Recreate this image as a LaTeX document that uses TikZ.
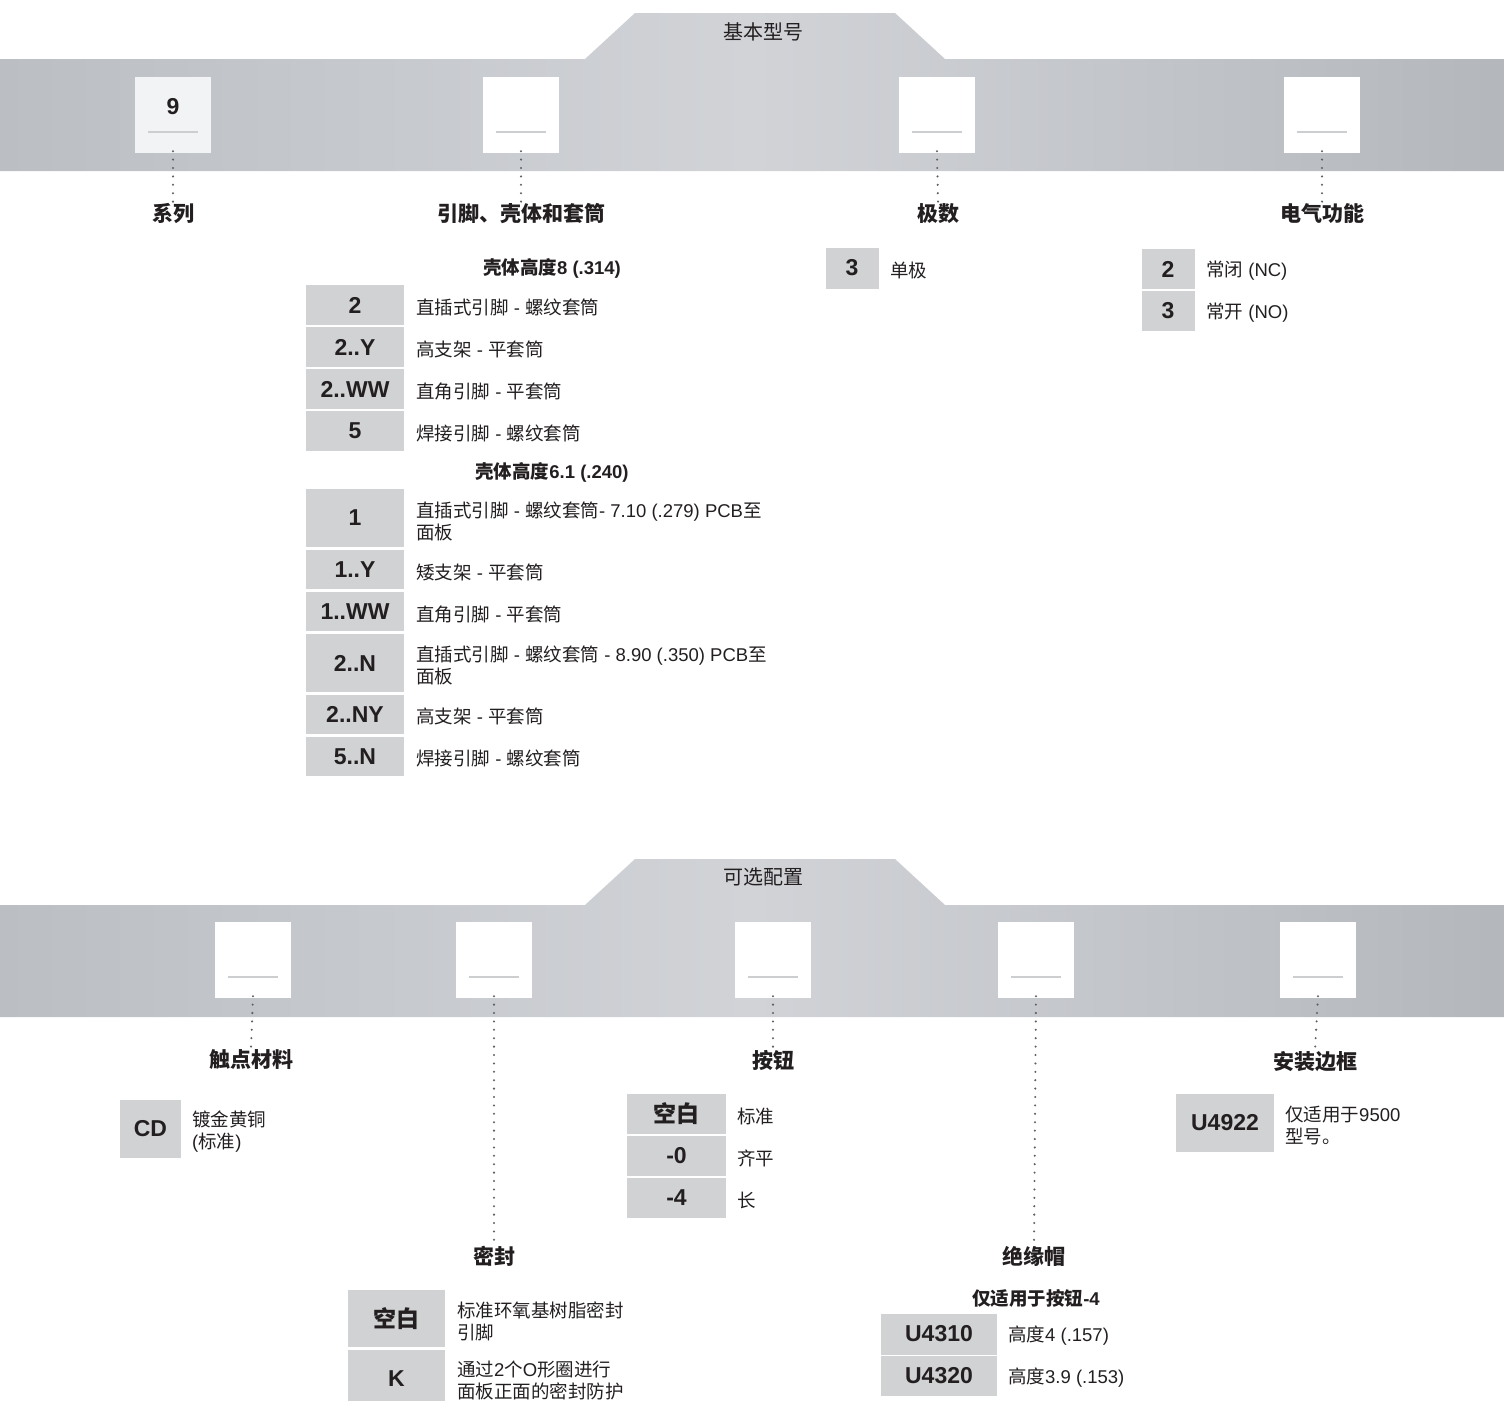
\documentclass[tikz,border=0pt]{standalone}
\usepackage{fontspec}
\setmainfont{Liberation Sans}
\newfontfamily\cjk{Noto Sans CJK SC}
\usetikzlibrary{positioning}
\newcommand{\zh}[1]{{\cjk #1}}
\definecolor{ink}{RGB}{35,31,32}
\definecolor{cellgray}{RGB}{209,210,212}
\definecolor{bandedge}{RGB}{187,191,196}
\definecolor{bandmid}{RGB}{209,211,215}
\definecolor{dotgray}{RGB}{95,96,100}
\definecolor{slotline}{RGB}{205,206,208}
\definecolor{slotfill}{RGB}{242,243,245}
\tikzstyle{slot}=[rectangle, fill=white, minimum size=76pt, inner sep=0pt,
  path picture={\draw[slotline, line width=2.5pt] ([xshift=-25pt,yshift=-17pt]path picture bounding box.center) -- ++(50pt,0pt);}]
\tikzstyle{fieldname}=[font=\bfseries\fontsize{21}{25}\selectfont, text=ink, inner sep=2pt]
\tikzstyle{bandtitle}=[font=\fontsize{20}{24}\selectfont, text=ink]
\tikzstyle{groupname}=[font=\bfseries\fontsize{18.5}{22}\selectfont, text=ink]
\tikzstyle{codecell}=[rectangle, fill=cellgray, inner sep=0pt, text=ink, font=\bfseries\fontsize{23}{27}\selectfont]
\tikzstyle{desc}=[anchor=west, inner sep=0pt, align=left, text=ink, font=\fontsize{18.5}{22}\selectfont]
\tikzstyle{leader}=[dotgray, line width=2.3pt, line cap=round, dash pattern=on 0pt off 8.4pt]

\begin{document}
\begin{tikzpicture}[x=1pt, y=-1pt]
  \useasboundingbox (0,0) rectangle (1504,1400);

  % basic part number band
  \path[left color=bandedge, right color=bandedge!96!black, middle color=bandmid]
    (0,59) -- (585,59) -- (635,13) -- (895,13) -- (945,59) -- (1504,59) -- (1504,171) -- (0,171) -- cycle;
  \node [bandtitle] at (763,32) (tBasic) {\zh{基本型号}};

  \node [slot, fill=slotfill] at (173,115)  (sSeries) {};
  \node [slot]                at (521,115)  (sTerm)   {};
  \node [slot]                at (937,115)  (sPoles)  {};
  \node [slot]                at (1322,115) (sFunc)   {};
  \node [codecell, fill=none] at (173,107)  (vSeries) {9};

  \node [fieldname] at (173,214)  (lSeries) {\zh{系列}};
  \node [fieldname] at (521,214)  (lTerm)   {\zh{引脚、壳体和套筒}};
  \node [fieldname] at (938,214)  (lPoles)  {\zh{极数}};
  \node [fieldname] at (1322,214) (lFunc)   {\zh{电气功能}};

  \draw [leader] ([yshift=2pt]sSeries.south) -- (lSeries.north);
  \draw [leader] ([yshift=2pt]sTerm.south)   -- (lTerm.north);
  \draw [leader] ([yshift=2pt]sPoles.south)  -- (lPoles.north);
  \draw [leader] ([yshift=2pt]sFunc.south)   -- (lFunc.north);

  % housing height 8
  \node [groupname] at (552,268) (gHigh) {\zh{壳体高度}8 (.314)};
  \node [codecell, minimum width=98pt, minimum height=40pt] at (355,305) (c2)   {2};
  \node [codecell, minimum width=98pt, minimum height=40pt] at (355,347) (c2Y)  {2..Y};
  \node [codecell, minimum width=98pt, minimum height=40pt] at (355,389) (c2WW) {2..WW};
  \node [codecell, minimum width=98pt, minimum height=40pt] at (355,431) (c5)   {5};
  \node [desc] at (416,307) (d2)   {\zh{直插式引脚} - \zh{螺纹套筒}};
  \node [desc] at (416,349) (d2Y)  {\zh{高支架} - \zh{平套筒}};
  \node [desc] at (416,391) (d2WW) {\zh{直角引脚} - \zh{平套筒}};
  \node [desc] at (416,433) (d5)   {\zh{焊接引脚} - \zh{螺纹套筒}};

  % housing height 6.1
  \node [groupname] at (552,472) (gLow) {\zh{壳体高度}6.1 (.240)};
  \node [codecell, minimum width=98pt, minimum height=58pt] at (355,518)   (c1)   {1};
  \node [codecell, minimum width=98pt, minimum height=39pt] at (355,569.5) (c1Y)  {1..Y};
  \node [codecell, minimum width=98pt, minimum height=39pt] at (355,611.5) (c1WW) {1..WW};
  \node [codecell, minimum width=98pt, minimum height=58pt] at (355,663)   (c2N)  {2..N};
  \node [codecell, minimum width=98pt, minimum height=39pt] at (355,714.5) (c2NY) {2..NY};
  \node [codecell, minimum width=98pt, minimum height=39pt] at (355,756.5) (c5N)  {5..N};
  \node [desc] at (416,521) (d1)   {\zh{直插式引脚} - \zh{螺纹套筒}- 7.10 (.279) PCB\zh{至}\\\zh{面板}};
  \node [desc] at (416,572) (d1Y)  {\zh{矮支架} - \zh{平套筒}};
  \node [desc] at (416,614) (d1WW) {\zh{直角引脚} - \zh{平套筒}};
  \node [desc] at (416,665) (d2N)  {\zh{直插式引脚} - \zh{螺纹套筒} - 8.90 (.350) PCB\zh{至}\\\zh{面板}};
  \node [desc] at (416,716) (d2NY) {\zh{高支架} - \zh{平套筒}};
  \node [desc] at (416,758) (d5N)  {\zh{焊接引脚} - \zh{螺纹套筒}};

  % poles, function
  \node [codecell, minimum width=53pt, minimum height=41pt] at (852,268)  (cP3) {3};
  \node [desc] at (890,270) (dP3) {\zh{单极}};
  \node [codecell, minimum width=53pt, minimum height=40pt] at (1168,269) (cF2) {2};
  \node [codecell, minimum width=53pt, minimum height=40pt] at (1168,311) (cF3) {3};
  \node [desc] at (1206,271) (dF2) {\zh{常闭} (NC)};
  \node [desc] at (1206,313) (dF3) {\zh{常开} (NO)};

  % options band
  \path[left color=bandedge, right color=bandedge!96!black, middle color=bandmid]
    (0,905) -- (585,905) -- (635,859) -- (895,859) -- (945,905) -- (1504,905) -- (1504,1017) -- (0,1017) -- cycle;
  \node [bandtitle] at (763,877) (tOpt) {\zh{可选配置}};

  \node [slot] at (253,960)  (sContact) {};
  \node [slot] at (494,960)  (sSeal)    {};
  \node [slot] at (773,960)  (sButton)  {};
  \node [slot] at (1036,960) (sCap)     {};
  \node [slot] at (1318,960) (sBezel)   {};

  \node [fieldname] at (251,1060)  (lContact) {\zh{触点材料}};
  \node [fieldname] at (494,1256)  (lSeal)    {\zh{密封}};
  \node [fieldname] at (773,1060)  (lButton)  {\zh{按钮}};
  \node [fieldname] at (1034,1256) (lCap)     {\zh{绝缘帽}};
  \node [fieldname] at (1315,1062) (lBezel)   {\zh{安装边框}};

  \draw [leader] ([yshift=2pt]sContact.south) -- (lContact.north);
  \draw [leader] ([yshift=2pt]sSeal.south)    -- (lSeal.north);
  \draw [leader] ([yshift=2pt]sButton.south)  -- (lButton.north);
  \draw [leader] ([yshift=2pt]sCap.south)     -- (lCap.north);
  \draw [leader] ([yshift=2pt]sBezel.south)   -- (lBezel.north);

  % contact material
  \node [codecell, minimum width=61pt, minimum height=58pt] at (150.5,1129) (cCD) {CD};
  \node [desc] at (192,1132) (dCD) {\zh{镀金黄铜}\\(\zh{标准})};

  % button
  \node [codecell, minimum width=99pt, minimum height=40pt] at (676.5,1114) (cBlank) {\zh{空白}};
  \node [codecell, minimum width=99pt, minimum height=40pt] at (676.5,1156) (cFlush) {-0};
  \node [codecell, minimum width=99pt, minimum height=40pt] at (676.5,1198) (cLong)  {-4};
  \node [desc] at (737,1116) (dBlank) {\zh{标准}};
  \node [desc] at (737,1158) (dFlush) {\zh{齐平}};
  \node [desc] at (737,1200) (dLong)  {\zh{长}};

  % bezel
  \node [codecell, minimum width=98pt, minimum height=58pt] at (1225,1122.5) (cU4922) {U4922};
  \node [desc] at (1285,1126) (dU4922) {\zh{仅适用于}9500\\\zh{型号。}};

  % seal
  \node [codecell, minimum width=97pt, minimum height=57pt] at (396.5,1318.5) (cSealStd) {\zh{空白}};
  \node [codecell, minimum width=97pt, minimum height=58pt] at (396.5,1379)   (cSealK)   {K};
  \node [desc] at (457,1321) (dSealStd) {\zh{标准环氧基树脂密封}\\\zh{引脚}};
  \node [desc] at (457,1380) (dSealK)   {\zh{通过}2\zh{个}O\zh{形圈进行}\\\zh{面板正面的密封防护}};

  % insulating cap
  \node [groupname] at (1036,1298) (gCap) {\zh{仅适用于按钮}-4};
  \node [codecell, minimum width=116pt, minimum height=41pt] at (939,1334) (cU4310) {U4310};
  \node [codecell, minimum width=116pt, minimum height=40pt] at (939,1376) (cU4320) {U4320};
  \node [desc] at (1008,1336) (dU4310) {\zh{高度}4 (.157)};
  \node [desc] at (1008,1378) (dU4320) {\zh{高度}3.9 (.153)};
\end{tikzpicture}
\end{document}
